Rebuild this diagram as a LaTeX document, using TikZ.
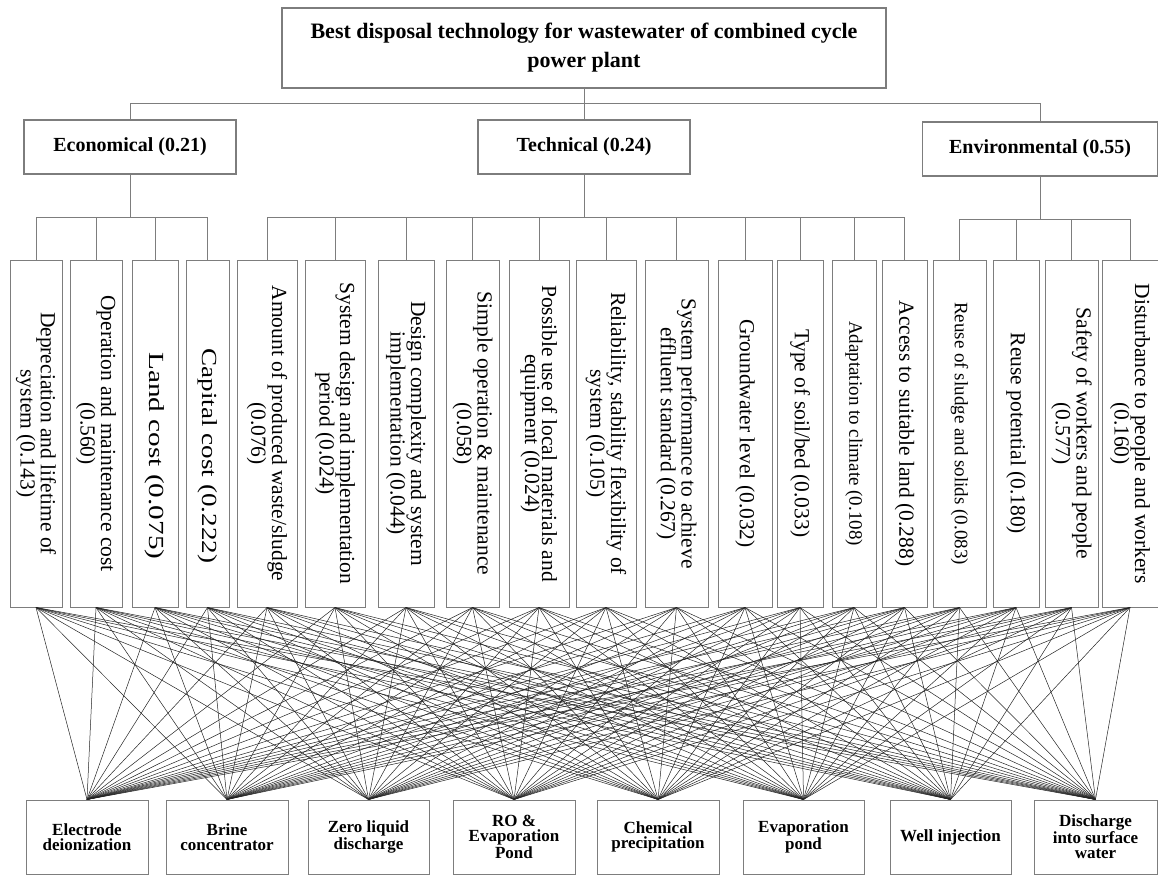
\documentclass[tikz,border=0pt]{standalone}
\usepackage{fontspec}
\setmainfont{Liberation Serif}
\usetikzlibrary{positioning,calc}
\definecolor{boxGray}{RGB}{125,125,125}
\definecolor{lineInk}{RGB}{35,35,35}
\tikzset{
  goal node/.style={draw=boxGray,line width=1.2pt,align=center,inner sep=0pt,font=\bfseries\fontsize{22}{29}\selectfont},
  group node/.style={draw=boxGray,line width=1.2pt,align=center,inner sep=0pt,minimum height=54pt,font=\bfseries\fontsize{20}{24}\selectfont},
  crit node/.style={draw=boxGray,line width=1pt,align=center,inner sep=0pt,rotate=-90,minimum width=347pt,font=\fontsize{21.5}{17}\selectfont},
  crit small/.style={crit node,font=\fontsize{19}{16}\selectfont},
  alt node/.style={draw=boxGray,line width=1pt,align=center,inner sep=0pt,minimum height=74pt,font=\bfseries\fontsize{17}{15}\selectfont},
  tree line/.style={draw=boxGray,line width=1pt},
  pair line/.style={draw=lineInk,line width=0.5pt}
}

\begin{document}
\begin{tikzpicture}[x=1pt,y=-1pt]
  \useasboundingbox (0,0) rectangle (1158,875);
  \node[goal node,minimum width=604pt,minimum height=80pt] (goal) at (584,48) {Best disposal technology for wastewater of combined cycle\\power plant};
  \node[group node,minimum width=212pt] (eco) at (130,147) {Economical (0.21)};
  \node[group node,minimum width=212pt] (tech) at (584,147) {Technical (0.24)};
  \node[group node,minimum width=235pt] (env) at (1040,149) {Environmental (0.55)};

  \node[crit node,minimum height=52pt] (c1) at (36,433.5) {Depreciation and lifetime of\\system (0.143)};
  \node[crit node,minimum height=52pt] (c2) at (96,433.5) {Operation and maintenance cost\\(0.560)};
  \node[crit node,minimum height=46pt] (c3) at (155,433.5) {\hspace*{45pt}\scalebox{1.36}[1]{Land cost (0.075)}};
  \node[crit node,minimum height=43pt] (c4) at (207.5,433.5) {\hspace*{45pt}\scalebox{1.26}[1]{Capital cost (0.222)}};
  \node[crit node,minimum height=60pt] (c5) at (267,433.5) {Amount of produced waste/sludge\\(0.076)};
  \node[crit node,minimum height=60pt] (c6) at (335,433.5) {System design and implementation\\period (0.024)};
  \node[crit node,minimum height=56pt] (c7) at (406,433.5) {Design complexity and system\\implementation (0.044)};
  \node[crit node,minimum height=53pt] (c8) at (472.5,433.5) {Simple operation \& maintenance\\(0.058)};
  \node[crit node,minimum height=60pt] (c9) at (539,433.5) {Possible use of local materials and\\equipment (0.024)};
  \node[crit node,minimum height=60pt] (c10) at (606,433.5) {Reliability, stability flexibility of\\system (0.105)};
  \node[crit node,minimum height=63pt] (c11) at (676.5,433.5) {System performance to achieve\\effluent standard (0.267)};
  \node[crit node,minimum height=54pt] (c12) at (745,433.5) {Groundwater level (0.032)};
  \node[crit node,minimum height=46pt] (c13) at (800,433.5) {Type of soil/bed (0.033)};
  \node[crit small,minimum height=44pt] (c14) at (854,433.5) {Adaptation to climate (0.108)};
  \node[crit node,minimum height=45pt] (c15) at (904.5,433.5) {Access to suitable land (0.288)};
  \node[crit small,minimum height=53pt] (c16) at (959.5,433.5) {Reuse of sludge and solids (0.083)};
  \node[crit node,minimum height=46pt] (c17) at (1016,433.5) {Reuse potential (0.180)};
  \node[crit node,minimum height=53pt] (c18) at (1071.5,433.5) {Safety of workers and people\\(0.577)};
  \node[crit node,minimum height=56pt] (c19) at (1130,433.5) {Disturbance to people and workers\\(0.160)};

  \node[alt node,minimum width=122pt] (a1) at (87,837) {Electrode\\deionization};
  \node[alt node,minimum width=122pt] (a2) at (227,837) {Brine\\concentrator};
  \node[alt node,minimum width=121pt] (a3) at (368.5,837) {Zero liquid\\discharge};
  \node[alt node,minimum width=122pt] (a4) at (514,837) {RO \&\\Evaporation\\Pond};
  \node[alt node,minimum width=122pt] (a5) at (658,837) {Chemical\\precipitation};
  \node[alt node,minimum width=121pt] (a6) at (803.5,837) {Evaporation\\pond};
  \node[alt node,minimum width=121pt] (a7) at (950.5,837) {Well injection};
  \node[alt node,minimum width=123pt] (a8) at (1095.5,837) {Discharge\\into surface\\water};

  \draw[tree line] (goal.south) -- ++(0,15) coordinate (topbus);
  \draw[tree line] (eco.north) |- (topbus) -| (env.north);
  \draw[tree line] (tech.north) -- (tech.north |- topbus);
  \draw[tree line] (eco.south) -- ++(0,43) coordinate (ecobus);
  \draw[tree line] (tech.south) -- ++(0,43) coordinate (techbus);
  \draw[tree line] (env.south) -- ++(0,43) coordinate (envbus);
  \foreach \c in {1,...,4}
    \draw[tree line] (c\c.west) |- (ecobus);
  \foreach \c in {5,...,15}
    \draw[tree line] (c\c.west) |- (techbus);
  \foreach \c in {16,...,19}
    \draw[tree line] (c\c.west) |- (envbus);

  \foreach \c in {1,...,19}
    \foreach \a in {1,...,8}
      \draw[pair line] (c\c.east) -- (a\a.north);
\end{tikzpicture}
\end{document}
